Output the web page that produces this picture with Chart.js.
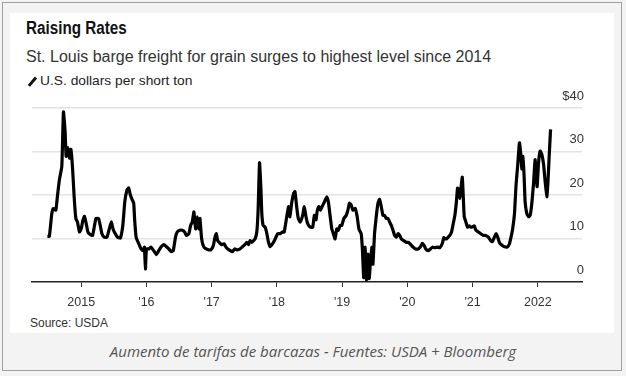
<!DOCTYPE html>
<html>
<head>
<meta charset="utf-8">
<script src="https://cdn.jsdelivr.net/npm/chart.js@4"></script>
<style>
  body { margin: 0; background: #f3f3f3; font-family: "Liberation Sans", Arial, sans-serif; }
  #frame { position: absolute; left: 2px; top: 2px; width: 620px; height: 369px; border: 1px solid #a0a0a0; box-sizing: border-box; background: #f3f3f3; }
  #card { position: absolute; left: 10px; top: 13px; width: 604px; height: 320px; background: #fff; }
  .t { position: absolute; white-space: nowrap; color: #222; }
  #title { left: 26px; top: 18px; font-size: 17.5px; font-weight: bold; color: #111; transform: scaleX(0.87); transform-origin: left top; }
  #sub { left: 26px; top: 48px; font-size: 16px; color: #333; }
  #unit { left: 40px; top: 73px; font-size: 13px; color: #222; transform: scaleX(1.06); transform-origin: left top; }
  #slash { position: absolute; left: 31px; top: 76px; width: 2.5px; height: 11px; background: #111; transform: rotate(40deg); }
  #source { left: 30px; top: 316px; font-size: 12px; color: #333; }
  #caption { left: 0; width: 626px; top: 341px; text-align: center; font-family: "Open Sans", sans-serif; font-style: italic; font-size: 15px; color: #555; }
  #wrap { position: absolute; left: 0; top: 0; width: 626px; height: 318px; }
</style>
</head>
<body>
<div id="frame"></div>
<div id="card"></div>
<div class="t" id="title">Raising Rates</div>
<div class="t" id="sub">St. Louis barge freight for grain surges to highest level since 2014</div>
<div id="slash"></div>
<div class="t" id="unit">U.S. dollars per short ton</div>
<div class="t" id="source">Source: USDA</div>
<div class="t" id="caption">Aumento de tarifas de barcazas - Fuentes: USDA + Bloomberg</div>
<div id="wrap"><canvas id="chart"></canvas></div>
<script>
// dates as decimal years, values in $ per short ton
const weeks = [
  2014.482, 2014.512, 2014.549, 2014.574, 2014.611, 2014.635, 2014.666, 2014.703, 2014.728, 2014.754,
  2014.769, 2014.795, 2014.820, 2014.842, 2014.866, 2014.892, 2014.918, 2014.943, 2014.974, 2015.000,
  2015.026, 2015.051, 2015.077, 2015.103, 2015.138, 2015.174, 2015.200, 2015.226, 2015.266, 2015.292,
  2015.318, 2015.354, 2015.395, 2015.431, 2015.462, 2015.488, 2015.523, 2015.558, 2015.600, 2015.638,
  2015.669, 2015.703, 2015.728, 2015.754, 2015.780, 2015.805, 2015.820, 2015.842, 2015.882, 2015.918,
  2015.949, 2015.969, 2015.985, 2016.000, 2016.035, 2016.072, 2016.112, 2016.154, 2016.189, 2016.226,
  2016.266, 2016.308, 2016.343, 2016.380, 2016.411, 2016.446, 2016.472, 2016.512, 2016.549, 2016.585,
  2016.615, 2016.651, 2016.677, 2016.703, 2016.728, 2016.754, 2016.780, 2016.805, 2016.820, 2016.846,
  2016.882, 2016.949, 2016.989, 2017.026, 2017.051, 2017.072, 2017.092, 2017.128, 2017.149, 2017.189,
  2017.220, 2017.266, 2017.318, 2017.354, 2017.395, 2017.435, 2017.472, 2017.508, 2017.538, 2017.565,
  2017.589, 2017.615, 2017.642, 2017.666, 2017.692, 2017.712, 2017.734, 2017.754, 2017.769, 2017.789,
  2017.820, 2017.846, 2017.872, 2017.897, 2017.934, 2017.969, 2018.011, 2018.051, 2018.088, 2018.112,
  2018.154, 2018.180, 2018.200, 2018.226, 2018.257, 2018.277, 2018.303, 2018.328, 2018.358, 2018.395,
  2018.420, 2018.446, 2018.472, 2018.512, 2018.549, 2018.574, 2018.600, 2018.615, 2018.642, 2018.666,
  2018.692, 2018.728, 2018.765, 2018.789, 2018.815, 2018.842, 2018.866, 2018.892, 2018.918, 2018.943,
  2018.969, 2018.995, 2019.026, 2019.062, 2019.088, 2019.112, 2019.138, 2019.165, 2019.200, 2019.231,
  2019.257, 2019.292, 2019.311, 2019.331, 2019.354, 2019.374, 2019.395, 2019.415, 2019.435, 2019.457,
  2019.472, 2019.497, 2019.523, 2019.549, 2019.574, 2019.600, 2019.626, 2019.651, 2019.677, 2019.703,
  2019.728, 2019.754, 2019.780, 2019.805, 2019.831, 2019.857, 2019.882, 2019.908, 2019.943, 2019.985,
  2020.020, 2020.051, 2020.088, 2020.123, 2020.165, 2020.200, 2020.231, 2020.257, 2020.282, 2020.318,
  2020.354, 2020.385, 2020.420, 2020.462, 2020.497, 2020.534, 2020.558, 2020.574, 2020.600, 2020.626,
  2020.651, 2020.677, 2020.703, 2020.728, 2020.754, 2020.769, 2020.789, 2020.805, 2020.820, 2020.842,
  2020.857, 2020.872, 2020.897, 2020.923, 2020.949, 2020.974, 2021.000, 2021.026, 2021.051, 2021.088,
  2021.123, 2021.165, 2021.200, 2021.242, 2021.277, 2021.303, 2021.334, 2021.358, 2021.385, 2021.411,
  2021.446, 2021.488, 2021.534, 2021.565, 2021.589, 2021.615, 2021.642, 2021.666, 2021.692, 2021.718,
  2021.738, 2021.754, 2021.769, 2021.789, 2021.805, 2021.831, 2021.857, 2021.882, 2021.908, 2021.934,
  2021.958, 2021.974, 2021.989, 2022.011, 2022.035, 2022.062, 2022.088, 2022.112, 2022.138, 2022.154,
  2022.174, 2022.195
];
const rates = [
  10.5, 10.5, 15.7, 16.9, 16.5, 19.6, 23.5, 26.6, 39.1, 34.4,
  28.9, 30.9, 28.5, 30.5, 26.6, 19.6, 14.6, 13.8, 11.5, 12.2,
  14.2, 15.1, 13.4, 11.5, 10.9, 10.7, 12.6, 14.6, 14.6, 13.0,
  11.1, 10.3, 10.3, 12.2, 13.8, 12.2, 11.1, 10.3, 10.1, 13.0,
  18.5, 21.2, 21.6, 20.0, 19.0, 18.1, 14.2, 10.3, 8.8, 7.6,
  7.2, 8.0, 3.0, 7.6, 7.6, 8.0, 7.2, 6.3, 7.2, 8.1,
  8.6, 8.1, 7.6, 7.0, 7.2, 10.3, 11.5, 11.9, 11.9, 11.5,
  10.7, 11.1, 13.0, 13.8, 16.1, 12.2, 15.0, 12.2, 14.6, 10.0,
  8.0, 7.4, 7.4, 8.4, 10.3, 11.1, 9.5, 8.9, 8.6, 8.8,
  8.0, 7.4, 7.0, 7.6, 7.4, 7.6, 8.1, 8.6, 9.1, 8.6,
  9.5, 9.1, 9.5, 9.9, 11.5, 16.5, 27.4, 21.9, 15.7, 13.0,
  12.6, 11.1, 9.1, 8.1, 8.8, 9.7, 11.1, 11.1, 11.5, 11.5,
  15.3, 17.3, 15.0, 18.1, 20.4, 20.8, 17.3, 14.6, 13.8, 15.3,
  17.3, 15.0, 13.4, 12.6, 12.6, 15.3, 14.3, 16.1, 17.3, 16.5,
  17.3, 18.4, 19.6, 18.4, 15.3, 12.2, 11.1, 9.9, 12.2, 11.9,
  13.0, 13.0, 14.6, 15.3, 16.5, 18.1, 17.7, 16.5, 16.9, 15.0,
  12.2, 11.1, 7.5, 1.0, 8.0, 0.5, 6.4, 0.8, 4.9, 8.0,
  4.1, 11.1, 15.0, 18.1, 19.0, 17.3, 15.3, 15.3, 14.6, 14.6,
  13.8, 13.0, 11.9, 10.7, 10.3, 11.1, 10.7, 9.9, 9.5, 9.1,
  9.1, 8.6, 8.0, 7.6, 7.6, 8.1, 8.9, 8.4, 7.6, 7.2,
  7.6, 8.0, 7.9, 8.0, 7.9, 8.8, 10.2, 10.0, 9.9, 10.3,
  10.7, 11.5, 13.4, 15.3, 18.8, 21.6, 21.2, 19.2, 21.2, 24.1,
  19.6, 15.0, 13.8, 12.6, 12.9, 12.6, 12.7, 12.9, 11.9, 11.5,
  11.1, 10.7, 10.7, 10.3, 9.5, 9.3, 10.3, 11.1, 10.3, 9.1,
  8.5, 8.1, 8.1, 8.8, 10.3, 12.3, 15.7, 22.3, 27.0, 32.0,
  29.5, 26.0, 28.9, 24.5, 18.5, 15.7, 15.0, 15.3, 18.1, 22.7,
  28.1, 24.3, 21.9, 27.4, 30.1, 29.3, 27.0, 23.1, 19.6, 22.7,
  28.9, 35.1
];
const tickYears = [2015, 2016, 2017, 2018, 2019, 2020, 2021, 2022];
const tickLabels = ['2015', "'16", "'17", "'18", "'19", "'20", "'21", '2022'];
const yTicks = [0, 10, 20, 30, 40];

const points = weeks.map((w, i) => ({ x: w, y: rates[i] }));

new Chart(document.getElementById('chart'), {
  type: 'line',
  data: {
    datasets: [{
      data: points,
      borderColor: '#000',
      borderWidth: 3.2,
      pointRadius: 0,
      tension: 0.15,
      clip: false
    }]
  },
  options: {
    responsive: true,
    maintainAspectRatio: false,
    animation: false,
    layout: { padding: { left: 32, right: 40, top: 108, bottom: 0 } },
    plugins: { legend: { display: false }, tooltip: { enabled: false } },
    scales: {
      x: {
        type: 'linear',
        min: 2014.246,
        max: 2022.677,
        afterBuildTicks: s => { s.ticks = tickYears.map(v => ({ value: v })); },
        ticks: {
          callback: v => tickLabels[tickYears.indexOf(v)],
          color: '#333',
          font: { family: 'Liberation Sans', size: 12.5 },
          padding: 8,
          maxRotation: 0
        },
        grid: { drawOnChartArea: false, drawTicks: true, tickLength: 5, color: '#333', lineWidth: 1 },
        border: { display: true, color: '#222', width: 1.5 }
      },
      y: {
        position: 'right',
        min: 0,
        max: 40,
        afterBuildTicks: s => { s.ticks = yTicks.map(v => ({ value: v })); },
        ticks: {
          mirror: true,
          padding: 2,
          labelOffset: -12,
          callback: v => v === 40 ? '$40' : String(v),
          color: '#333',
          font: { family: 'Liberation Sans', size: 13 }
        },
        grid: { color: ctx => ctx.tick && ctx.tick.value === 0 ? 'rgba(0,0,0,0)' : '#e3e3e3', lineWidth: 1.5, drawTicks: false },
        border: { display: false }
      }
    }
  }
});
</script>
</body>
</html>
